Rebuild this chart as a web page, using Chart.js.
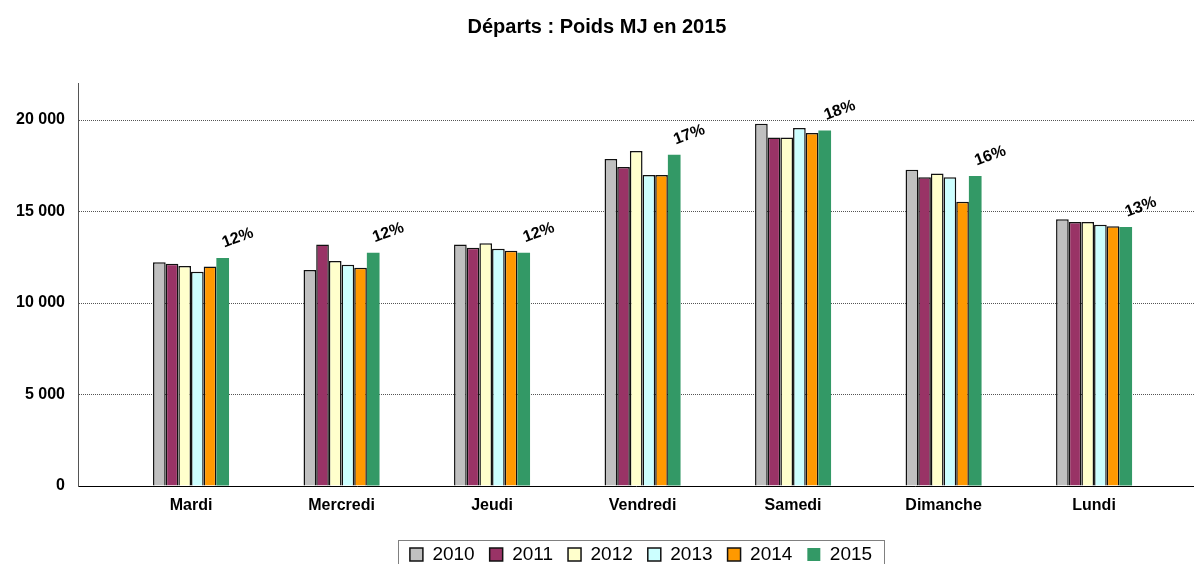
<!DOCTYPE html>
<html>
<head>
<meta charset="utf-8">
<script src="https://cdn.jsdelivr.net/npm/chart.js@4.4.0/dist/chart.umd.min.js"></script>
<style>
  html, body { margin: 0; padding: 0; background: #ffffff; }
  #wrap { width: 1194px; height: 564px; position: relative; }
</style>
</head>
<body>
<div id="wrap"><canvas id="c" width="1194" height="564"></canvas></div>
<script>
const categories = ['Mardi', 'Mercredi', 'Jeudi', 'Vendredi', 'Samedi', 'Dimanche', 'Lundi'];
const years = ['2010', '2011', '2012', '2013', '2014', '2015'];
const s2010 = [12220, 11800, 13190, 17870, 19800, 17280, 14570];
const s2011 = [12150, 13190, 13020, 17430, 19050, 16870, 14420];
const s2012 = [12020, 12290, 13260, 18300, 19050, 17080, 14420];
const s2013 = [11710, 12090, 12970, 16990, 19560, 16870, 14280];
const s2014 = [12000, 11930, 12860, 16990, 19290, 15530, 14190];
const s2015 = [12460, 12750, 12750, 18100, 19430, 16940, 14150];
const pctLabels = ['12%', '12%', '12%', '17%', '18%', '16%', '13%'];
const yTicks = [0, 5000, 10000, 15000, 20000];

const seriesList = [s2010, s2011, s2012, s2013, s2014, s2015];
const fills = ['#C0C0C0', '#993366', '#FFFFCC', '#CCFFFF', '#FF9900', '#339966'];
const FONT = "'Liberation Sans', Arial, sans-serif";
const PAD_BOTTOM = -10;
const LEGEND_CENTER = 641;

const datasets = seriesList.map((s, k) => ({
  label: years[k],
  data: s.map((v, i) => ({ x: i, y: v })),
  backgroundColor: fills[k],
  borderColor: k === 5 ? '#339966' : '#111111',
  borderWidth: k === 5 ? 0 : 1.5,
  borderSkipped: 'bottom',
  categoryPercentage: 0.505,
  barPercentage: 1.0
}));

const pctPlugin = {
  id: 'pct',
  afterDatasetsDraw(chart) {
    const meta = chart.getDatasetMeta(5);
    const ctx = chart.ctx;
    ctx.save();
    ctx.font = 'bold 16px ' + FONT;
    ctx.fillStyle = '#000';
    ctx.textAlign = 'center';
    ctx.textBaseline = 'middle';
    meta.data.forEach((bar, i) => {
      ctx.save();
      ctx.translate(bar.x + 15, bar.y - 20);
      ctx.rotate(-20 * Math.PI / 180);
      ctx.fillText(pctLabels[i], 0, 0);
      ctx.restore();
    });
    ctx.restore();
  }
};

const legendShift = {
  id: 'legendShift',
  afterLayout(chart) {
    const lg = chart.legend;
    if (!lg) return;
    const shift = LEGEND_CENTER - (lg.left + lg.right) / 2;
    lg.left += shift;
    lg.right += shift;
  },
  afterDraw(chart) {
    const lg = chart.legend;
    if (!lg || !lg.lineWidths) return;
    const w = lg.lineWidths[0];
    const cx = (lg.left + lg.right) / 2;
    const ctx = chart.ctx;
    ctx.save();
    ctx.strokeStyle = '#808080';
    ctx.lineWidth = 1;
    ctx.strokeRect(Math.round(cx - w / 2 - 4.5) + 0.5, 540.5, Math.round(w + 9), 40);
    ctx.restore();
  }
};

new Chart(document.getElementById('c'), {
  type: 'bar',
  data: { datasets },
  plugins: [pctPlugin, legendShift],
  options: {
    responsive: false,
    animation: false,
    devicePixelRatio: 1,
    layout: { padding: { left: 0, right: 0, top: 0, bottom: PAD_BOTTOM } },
    plugins: {
      title: {
        display: true,
        text: 'Départs : Poids MJ en 2015',
        color: '#000',
        font: { family: FONT, size: 20, weight: 'bold' },
        padding: { top: 15, bottom: 44.4 }
      },
      legend: {
        position: 'bottom',
        labels: {
          color: '#000',
          font: { family: FONT, size: 19 },
          boxWidth: 13,
          boxHeight: 13,
          padding: 15
        }
      },
      tooltip: { enabled: false }
    },
    scales: {
      x: {
        type: 'linear',
        min: -0.751,
        max: 6.664,
        offset: false,
        afterBuildTicks(scale) {
          scale.ticks = categories.map((c, i) => ({ value: i }));
        },
        afterFit(scale) {
          const lh = scale.chart.legend ? scale.chart.legend.height : 0;
          scale.height = Math.max(0, 564 - PAD_BOTTOM - lh - 486);
        },
        ticks: {
          autoSkip: false,
          maxRotation: 0,
          minRotation: 0,
          padding: 10,
          color: '#000',
          font: { family: FONT, size: 16, weight: 'bold' },
          callback: (v) => categories[v]
        },
        grid: { display: false, drawTicks: false },
        border: { display: true, color: '#000', width: 1 }
      },
      y: {
        min: 0,
        max: 22000,
        afterBuildTicks(scale) {
          scale.ticks = yTicks.map(v => ({ value: v }));
        },
        afterFit(scale) { scale.width = 78; },
        ticks: {
          padding: 13,
          color: '#000',
          font: { family: FONT, size: 16, weight: 'bold' },
          callback: (v) => String(v).replace(/\B(?=(\d{3})+(?!\d))/g, ' ')
        },
        grid: {
          drawTicks: false,
          color: (c) => (c.tick && c.tick.value === 0) ? 'rgba(0,0,0,0)' : '#555',
          lineWidth: 1
        },
        border: { display: true, color: '#555', width: 1, dash: [1, 1] }
      }
    }
  }
});
</script>
</body>
</html>
